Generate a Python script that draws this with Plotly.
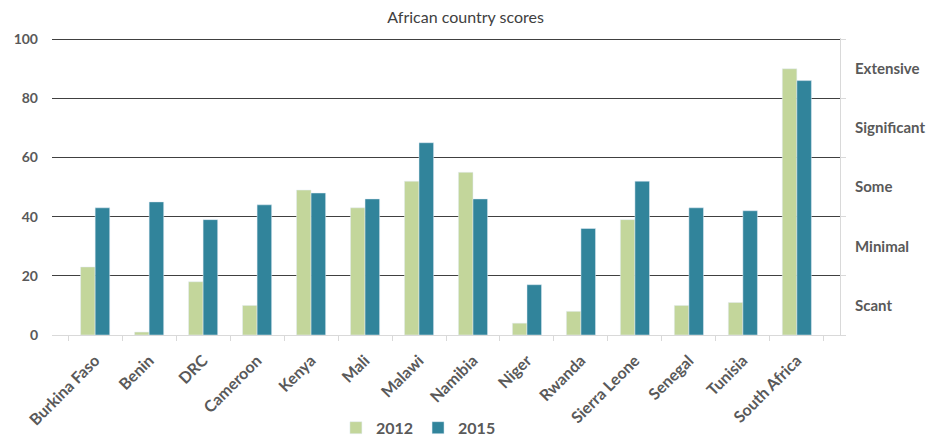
import plotly.graph_objects as go

countries = ["Burkina Faso", "Benin", "DRC", "Cameroon", "Kenya", "Mali", "Malawi",
             "Namibia", "Niger", "Rwanda", "Sierra Leone", "Senegal", "Tunisia", "South Africa"]
scores_2012 = [23, 1, 18, 10, 49, 43, 52, 55, 4, 8, 39, 10, 11, 90]
scores_2015 = [43, 45, 39, 44, 48, 46, 65, 46, 17, 36, 52, 43, 42, 86]

level_vals = [10, 30, 50, 70, 90]
level_names = ["Scant", "Minimal", "Some", "Significant", "Extensive"]

GREEN = "#C3D69B"
TEAL = "#31849B"
GREY_TXT = "#595959"
FONT = "Lato"

fig = go.Figure()
fig.add_trace(go.Bar(x=countries, y=scores_2012, name="2012", marker_color=GREEN))
fig.add_trace(go.Bar(x=countries, y=scores_2015, name="2015", marker_color=TEAL))
# invisible trace so the right axis exists
fig.add_trace(go.Scatter(x=countries, y=scores_2015, yaxis="y2", mode="markers",
                         marker_opacity=0, showlegend=False, hoverinfo="skip"))

# page body has an 8px margin, so the figure is a bit smaller than the window
fig.update_layout(
    width=932, height=435,
    margin=dict(l=44, r=100, t=30, b=108),
    paper_bgcolor="white", plot_bgcolor="white",
    barmode="group", bargap=0.46, bargroupgap=0,
    font=dict(family=FONT, color=GREY_TXT),
    title=dict(text="African country scores", x=0.491, xanchor="center", y=0.979, yanchor="middle",
               font=dict(size=16, color="#404040", family=FONT), automargin=False),
    legend=dict(orientation="h", xref="paper", x=0.465, xanchor="center",
                yref="container", y=0.035, yanchor="middle",
                font=dict(size=16, color=GREY_TXT, family=FONT, weight="bold"),
                itemwidth=30, traceorder="normal"),
    xaxis=dict(showline=True, linecolor="#D9D9D9", linewidth=1, ticks="outside",
               tickson="boundaries", ticklen=5, tickcolor="#D9D9D9", tickangle=-45,
               tickfont=dict(size=16, color=GREY_TXT, family=FONT, weight="bold"),
               ticklabelstandoff=9, showgrid=False, automargin=False),
    yaxis=dict(range=[0, 100.4], tickvals=[0, 20, 40, 60, 80, 100], showgrid=True,
               gridcolor="#404040", gridwidth=1, zeroline=False, automargin=False,
               tickfont=dict(size=14, color=GREY_TXT, family=FONT, weight="bold"),
               ticklabelstandoff=13),
    yaxis2=dict(range=[0, 100.4], overlaying="y", side="right", tickvals=level_vals,
                ticktext=level_names, showgrid=False, zeroline=False, showline=True,
                linecolor="#D9D9D9", ticks="", ticklabelstandoff=11, automargin=False,
                tickfont=dict(size=15, color=GREY_TXT, family=FONT, weight="bold"),
                minor=dict(tickmode="array", tickvals=[0, 20, 40, 60, 80, 100],
                           ticks="outside", ticklen=5, tickcolor="#D9D9D9")),
)

fig.write_html("out.html")
